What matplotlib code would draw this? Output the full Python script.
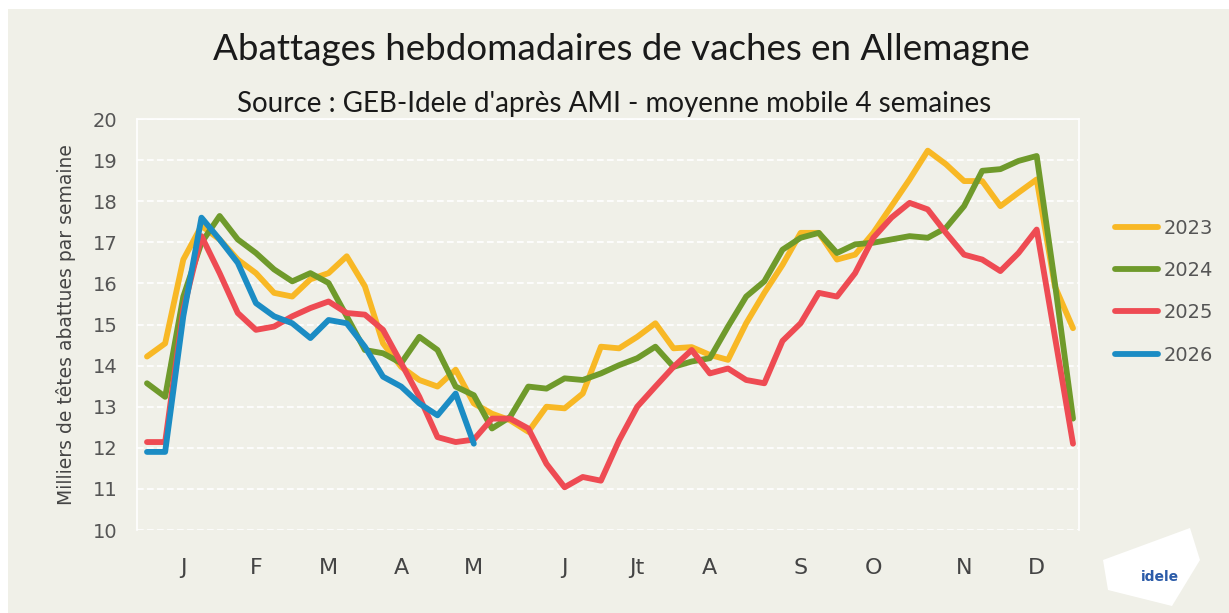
import numpy as np
import matplotlib.pyplot as plt
from matplotlib.patches import Rectangle, Polygon

weeks = np.arange(1, 53)

y2023 = [14.22, 14.54, 16.58, 17.40, 17.07, 16.58, 16.25, 15.77, 15.68, 16.10,
         16.25, 16.66, 15.93, 14.54, 13.97, 13.65, 13.49, 13.90, 13.08, 12.83,
         12.67, 12.39, 13.00, 12.96, 13.32, 14.46, 14.42, 14.70, 15.03, 14.42,
         14.45, 14.26, 14.14, 15.03, 15.77, 16.45, 17.23, 17.23, 16.58, 16.70,
         17.23, 17.88, 18.53, 19.23, 18.90, 18.49, 18.49, 17.88, 18.21, 18.53,
         15.93, 14.91]
y2024 = [13.57, 13.24, 15.68, 16.99, 17.64, 17.07, 16.74, 16.34, 16.05, 16.25,
         16.01, 15.20, 14.38, 14.30, 14.06, 14.70, 14.38, 13.49, 13.28, 12.47,
         12.75, 13.49, 13.44, 13.69, 13.65, 13.81, 14.01, 14.18, 14.46, 13.97,
         14.10, 14.18, 14.95, 15.68, 16.05, 16.82, 17.11, 17.23, 16.74, 16.95,
         16.99, 17.07, 17.15, 17.11, 17.35, 17.88, 18.74, 18.78, 18.98, 19.10,
         16.01, 12.71]
y2025 = [12.14, 12.14, 15.36, 17.15, 16.25, 15.28, 14.87, 14.95, 15.20, 15.40,
         15.56, 15.28, 15.24, 14.87, 14.06, 13.24, 12.26, 12.14, 12.20, 12.71,
         12.71, 12.47, 11.61, 11.04, 11.29, 11.20, 12.18, 13.00, 13.49, 13.97,
         14.38, 13.81, 13.93, 13.65, 13.57, 14.60, 15.03, 15.77, 15.68, 16.25,
         17.11, 17.60, 17.96, 17.80, 17.23, 16.70, 16.58, 16.30, 16.74, 17.31,
         14.71, 12.10]
y2026 = [11.90, 11.90, 15.20, 17.60, 17.07, 16.50, 15.52, 15.20, 15.03, 14.67,
         15.11, 15.03, 14.46, 13.73, 13.49, 13.08, 12.79, 13.32, 12.10]

series = [("2023", y2023, "#F8B825"), ("2024", y2024, "#6F9A2B"),
          ("2025", y2025, "#EE4B53"), ("2026", y2026, "#1B8CC4")]

month_pos = [3, 7, 11, 15, 19, 24, 28, 32, 37, 41, 46, 50]
month_lab = ["J", "F", "M", "A", "M", "J", "Jt", "A", "S", "O", "N", "D"]

bg = "#F0F0E8"
fig = plt.figure(figsize=(12.29, 6.13), dpi=100, facecolor="white")
fig.patches.append(Rectangle((8/1229, 0), 1, 1 - 9/613, transform=fig.transFigure,
                             facecolor=bg, edgecolor="none", zorder=-10))

ax = fig.add_axes([137/1229, 1 - 530/613, (1079-137)/1229, (530-119)/613])
ax.set_facecolor(bg)
for s in series:
    ax.plot(weeks[:len(s[1])], s[1], color=s[2], lw=4.2, label=s[0],
            solid_joinstyle="round", solid_capstyle="round")

ax.set_xlim(0.45, 52.33)
ax.set_ylim(10, 20)
ax.set_yticks(range(10, 21))
ax.set_xticks(month_pos)
ax.set_xticklabels(month_lab)
ax.tick_params(length=0)
ax.tick_params(axis="y", pad=14, labelsize=14, labelcolor="#555555")
ax.tick_params(axis="x", pad=20, labelsize=16, labelcolor="#444444")
ax.grid(axis="y", color="white", lw=1.2, ls=(0, (4, 2)))
for sp in ax.spines.values():
    sp.set_color("white")
    sp.set_linewidth(1.2)
ax.spines["bottom"].set_visible(False)
ax.set_ylabel("Milliers de têtes abattues par semaine", fontsize=13.5,
              color="#444444", labelpad=12)

leg = ax.legend(loc="center left", bbox_to_anchor=(1.03, 0.58), frameon=False,
                fontsize=14, handlelength=2.2, handletextpad=0.3,
                labelspacing=1.2, borderaxespad=0)
for t in leg.get_texts():
    t.set_color("#555555")

fig.text(0.506, 1 - 50/613, "Abattages hebdomadaires de vaches en Allemagne",
         ha="center", va="center", fontsize=26.5, family="Lato", color="#1a1a1a")
fig.text(0.50, 1 - 104/613, "Source : GEB-Idele d'après AMI - moyenne mobile 4 semaines",
         ha="center", va="center", fontsize=20, family="Lato", color="#1a1a1a")

# logo
fig.patches.append(Polygon([(1103/1229, 1 - 560/613), (1190/1229, 1 - 528/613),
                            (1200/1229, 1 - 560/613), (1172/1229, 1 - 606/613),
                            (1108/1229, 1 - 590/613)],
                           closed=True, transform=fig.transFigure,
                           facecolor="white", edgecolor="none"))
fig.text(1160/1229, 1 - 577/613, "idele", ha="center", va="center",
         fontsize=10, fontweight="bold", color="#2B5BA8")

fig.savefig("out.png", dpi=100, facecolor="white")
